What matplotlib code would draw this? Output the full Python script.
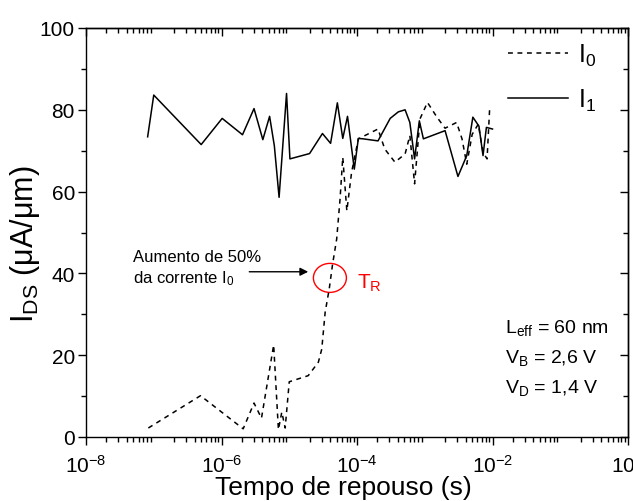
import matplotlib
matplotlib.use("Agg")
import matplotlib.pyplot as plt
import numpy as np
from matplotlib.patches import Ellipse
from matplotlib.transforms import ScaledTranslation
from matplotlib.ticker import LogLocator, MultipleLocator, LogFormatterMathtext, NullFormatter

plt.rcParams["font.family"] = ["Liberation Sans", "DejaVu Sans"]
plt.rcParams["mathtext.default"] = "regular"

# Rest time exponents (log10 of seconds) and drain current (uA/um)
i0_exp = [-7.08, -6.31, -5.68, -5.52, -5.41, -5.23, -5.16, -5.11, -5.06, -5.00,
          -4.72, -4.57, -4.52, -4.47, -4.41, -4.36, -4.30, -4.25, -4.21, -4.15,
          -4.08, -3.98, -3.69, -3.59, -3.44, -3.29, -3.22, -3.15, -3.07, -2.96,
          -2.82, -2.70, -2.53, -2.45, -2.38, -2.30, -2.21, -2.14, -2.08, -2.04]
i0_val = [2.2, 10.1, 2.0, 8.3, 4.6, 22.5, 1.8, 6.1, 2.2, 13.5,
          15.0, 18.3, 21.5, 30.5, 36.2, 42.3, 48.4, 58.2, 68.4, 55.3,
          64.7, 72.9, 75.3, 70.4, 67.2, 69.2, 73.7, 61.9, 77.8, 81.8,
          78.2, 75.5, 76.9, 72.9, 66.7, 74.0, 76.5, 69.6, 68.0, 81.0]

i1_exp = [-7.09, -7.00, -6.30, -5.99, -5.69, -5.52, -5.39, -5.29, -5.22, -5.15,
          -5.04, -4.99, -4.70, -4.51, -4.39, -4.29, -4.21, -4.14, -4.04, -3.98,
          -3.91, -3.69, -3.51, -3.39, -3.29, -3.22, -3.15, -3.08, -3.02, -2.70,
          -2.51, -2.38, -2.29, -2.20, -2.14, -2.09, -2.00]
i1_val = [73.4, 83.6, 71.5, 77.9, 73.9, 80.3, 72.7, 78.4, 71.2, 58.6,
          84.0, 68.0, 69.3, 74.2, 71.8, 81.7, 73.0, 78.4, 65.5, 73.0,
          72.9, 72.4, 77.9, 79.5, 80.0, 76.9, 68.0, 77.3, 72.9, 74.9,
          63.7, 68.8, 78.2, 76.0, 68.8, 75.7, 75.3]

series_labels = ["$I_0$", "$I_1$"]
decade_ticks = [1e-8, 1e-6, 1e-4, 1e-2, 1e0]

# Marked rest time T_R and the 50 % increase annotation
tr_exp, tr_val = -4.40, 38.9
arrow_from_exp, arrow_to_exp, arrow_val = -5.59, -4.72, 40.4

fig = plt.figure(figsize=(6.33, 5.02), dpi=100)
ax = fig.add_axes([86 / 633, 1 - 438 / 502, 542 / 633, 409 / 502])

t0 = 10.0 ** np.array(i0_exp)
t1 = 10.0 ** np.array(i1_exp)
ax.plot(t0, i0_val, color="black", lw=1.1, linestyle=(0, (3.2, 3.0)), label=series_labels[0])
ax.plot(t1, i1_val, color="black", lw=1.1, linestyle="-", label=series_labels[1])

ax.set_xscale("log")
ax.set_xlim(1e-8, 1e0)
ax.set_ylim(0, 100)

ax.set_xticks(decade_ticks)
ax.xaxis.set_major_formatter(LogFormatterMathtext())
ax.xaxis.set_minor_locator(LogLocator(base=10, subs=np.arange(2, 10), numticks=100))
ax.xaxis.set_minor_formatter(NullFormatter())
ax.yaxis.set_major_locator(MultipleLocator(20))
ax.yaxis.set_minor_locator(MultipleLocator(10))

for sp in ax.spines.values():
    sp.set_linewidth(1.0)

ax.tick_params(axis="both", which="major", direction="out", length=6, width=1, labelsize=15)
ax.tick_params(axis="x", which="major", pad=6)
ax.tick_params(axis="y", which="major", pad=2)
ax.tick_params(axis="both", which="minor", direction="out", length=3.5, width=1)

# Mirrored inward ticks on the top and right spines
top = ax.secondary_xaxis("top")
top.set_xticks(decade_ticks)
top.xaxis.set_minor_locator(LogLocator(base=10, subs=np.arange(2, 10), numticks=100))
top.tick_params(which="major", direction="in", length=6, width=1, labeltop=False)
top.tick_params(which="minor", direction="in", length=3.5, width=1)
top.spines["top"].set_linewidth(1.0)
right = ax.secondary_yaxis("right")
right.yaxis.set_major_locator(MultipleLocator(20))
right.yaxis.set_minor_locator(MultipleLocator(10))
right.tick_params(which="major", direction="in", length=6, width=1, labelright=False)
right.tick_params(which="minor", direction="in", length=3.5, width=1)
right.spines["right"].set_linewidth(1.0)

ax.set_xlabel("Tempo de repouso (s)", fontsize=19)
ax.xaxis.set_label_coords(0.475, -0.093)
ax.set_ylabel("$I_{DS}$ (μA/μm)", fontsize=22)
ax.yaxis.set_label_coords(-0.081, 0.474)

leg = ax.legend(loc="upper left", bbox_to_anchor=(0.778, 0.966), frameon=False,
                fontsize=18, handlelength=2.4, handletextpad=0.4,
                labelspacing=0.75, borderpad=0, borderaxespad=0)

# Ellipse around T_R, sized in screen units
ell_tr = fig.dpi_scale_trans + ScaledTranslation(10 ** tr_exp, tr_val, ax.transData)
ax.add_patch(Ellipse((0, 0), 0.33, 0.29, transform=ell_tr, fill=False,
                     edgecolor="red", lw=1.0))
ax.text(10 ** -4.0, 36.4, "$T_R$", color="red", fontsize=15, va="baseline", ha="left")

ax.annotate("", xy=(10 ** arrow_to_exp, arrow_val), xytext=(10 ** arrow_from_exp, arrow_val),
            arrowprops=dict(arrowstyle="-|>", color="black", lw=1.0,
                            mutation_scale=12, shrinkA=0, shrinkB=0))
ax.text(10 ** -7.31, 43.0, "Aumento de 50%", fontsize=12, va="baseline", ha="left")
ax.text(10 ** -7.31, 37.9, "da corrente $I_0$", fontsize=12, va="baseline", ha="left")

ax.text(10 ** -1.815, 25.7, "$L_{eff}$ = 60 nm", fontsize=14, va="baseline", ha="left")
ax.text(10 ** -1.815, 18.3, "$V_B$ = 2,6 V", fontsize=14, va="baseline", ha="left")
ax.text(10 ** -1.815, 11.0, "$V_D$ = 1,4 V", fontsize=14, va="baseline", ha="left")

fig.savefig("out.png", dpi=100)
